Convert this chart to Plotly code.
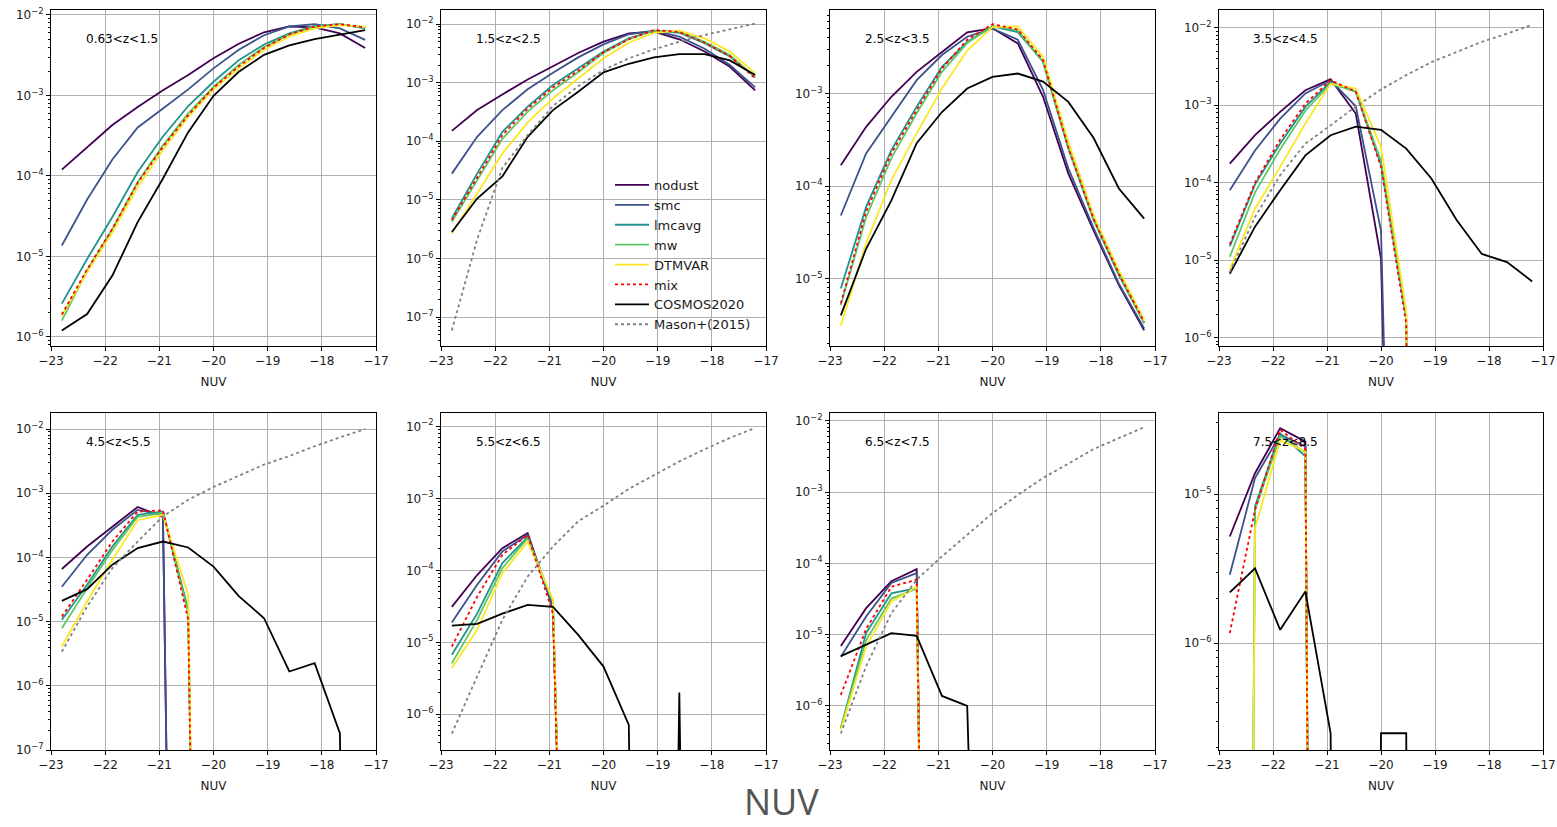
import math
import plotly.graph_objects as go

# ---------------- data ----------------
NUV_BINS = [-22.8, -22.333, -21.867, -21.4, -20.933, -20.467, -20.0,
            -19.533, -19.067, -18.6, -18.133, -17.667, -17.2]

PANEL_LABELS = ["0.63<z<1.5", "1.5<z<2.5", "2.5<z<3.5", "3.5<z<4.5",
                "4.5<z<5.5", "5.5<z<6.5", "6.5<z<7.5", "7.5<z<8.5"]

Z = 0  # empty bin

NODUST = [
    [1.2e-4, 2.3e-4, 4.3e-4, 7.2e-4, 1.16e-3, 1.8e-3, 2.9e-3, 4.4e-3, 6.1e-3, 7.2e-3, 7.0e-3, 5.9e-3, 3.9e-3],
    [1.5e-4, 3.4e-4, 6.3e-4, 1.13e-3, 1.9e-3, 3.2e-3, 5.0e-3, 6.9e-3, 7.4e-3, 5.5e-3, 3.4e-3, 1.87e-3, 7.4e-4],
    [1.68e-4, 4.36e-4, 9.2e-4, 1.71e-3, 2.8e-3, 4.57e-3, 5.05e-3, 3.47e-3, 9.2e-4, 1.36e-4, 3.3e-5, 8.5e-6, 2.76e-6],
    [1.76e-4, 4.1e-4, 8.2e-4, 1.56e-3, 2.17e-3, 7.8e-4, 1.04e-5, Z, Z, Z, Z, Z, Z],
    [6.6e-5, 1.48e-4, 3.0e-4, 6.1e-4, 4.3e-4, Z, Z, Z, Z, Z, Z, Z, Z],
    [3.1e-5, 8.6e-5, 2.03e-4, 3.3e-4, 3.0e-5, Z, Z, Z, Z, Z, Z, Z, Z],
    [6.95e-6, 2.35e-5, 5.6e-5, 8.3e-5, Z, Z, Z, Z, Z, Z, Z, Z, Z],
    [5.2e-6, 1.38e-5, 2.77e-5, 2.25e-5, Z, Z, Z, Z, Z, Z, Z, Z, Z],
]
SMC = [
    [1.37e-5, 5.1e-5, 1.6e-4, 4.0e-4, 6.9e-4, 1.19e-3, 2.17e-3, 3.7e-3, 5.6e-3, 7.2e-3, 7.7e-3, 6.8e-3, 4.9e-3],
    [2.8e-5, 1.19e-4, 3.4e-4, 7.7e-4, 1.48e-3, 2.7e-3, 4.5e-3, 6.7e-3, 7.7e-3, 6.1e-3, 3.8e-3, 2.0e-3, 8.3e-4],
    [4.8e-5, 2.25e-4, 5.6e-4, 1.39e-3, 2.6e-3, 4.1e-3, 5.0e-3, 3.8e-3, 1.09e-3, 1.55e-4, 3.5e-5, 8.8e-6, 2.9e-6],
    [8.0e-5, 2.6e-4, 6.7e-4, 1.42e-3, 2.1e-3, 9.7e-4, 2.4e-5, Z, Z, Z, Z, Z, Z],
    [3.5e-5, 1.1e-4, 2.7e-4, 5.5e-4, 4.6e-4, Z, Z, Z, Z, Z, Z, Z, Z],
    [1.88e-5, 6.3e-5, 1.83e-4, 3.1e-4, 3.1e-5, Z, Z, Z, Z, Z, Z, Z, Z],
    [4.9e-6, 1.8e-5, 5.3e-5, 7.3e-5, Z, Z, Z, Z, Z, Z, Z, Z, Z],
    [2.88e-6, 1.28e-5, 2.5e-5, 2.09e-5, Z, Z, Z, Z, Z, Z, Z, Z, Z],
]
LMCAVG = [
    [2.6e-6, 9.3e-6, 3.1e-5, 1.12e-4, 3.1e-4, 7.4e-4, 1.48e-3, 2.75e-3, 4.3e-3, 5.9e-3, 7.3e-3, 7.7e-3, 6.8e-3],
    [4.8e-6, 2.8e-5, 1.45e-4, 3.9e-4, 9.1e-4, 1.75e-3, 3.4e-3, 5.7e-3, 7.7e-3, 7.1e-3, 4.7e-3, 2.8e-3, 1.26e-3],
    [7.8e-6, 5.95e-5, 2.44e-4, 7.2e-4, 1.94e-3, 3.6e-3, 5.3e-3, 4.6e-3, 2.2e-3, 2.54e-4, 4.3e-5, 1.09e-5, 3.3e-6],
    [1.5e-5, 9.5e-5, 3.2e-4, 9.5e-4, 2.0e-3, 1.5e-3, 1.7e-4, 1.8e-6, Z, Z, Z, Z, Z],
    [1.07e-5, 3.75e-5, 1.48e-4, 4.6e-4, 5.2e-4, 1.53e-5, Z, Z, Z, Z, Z, Z, Z],
    [6.7e-6, 2.5e-5, 1.26e-4, 2.9e-4, 3.5e-5, Z, Z, Z, Z, Z, Z, Z, Z],
    [4.9e-7, 1.05e-5, 3.8e-5, 4.5e-5, Z, Z, Z, Z, Z, Z, Z, Z, Z],
    [Z, 8.3e-6, 2.56e-5, 1.79e-5, Z, Z, Z, Z, Z, Z, Z, Z, Z],
]
MW = [
    [1.6e-6, 6.7e-6, 2.2e-5, 8.4e-5, 2.4e-4, 6.0e-4, 1.28e-3, 2.4e-3, 4.0e-3, 5.75e-3, 7.2e-3, 7.7e-3, 6.9e-3],
    [4.2e-6, 2.2e-5, 1.1e-4, 3.2e-4, 7.4e-4, 1.5e-3, 3.2e-3, 5.5e-3, 7.7e-3, 7.4e-3, 5.0e-3, 2.95e-3, 1.23e-3],
    [5.2e-6, 4.6e-5, 2.0e-4, 6.1e-4, 1.71e-3, 3.5e-3, 5.35e-3, 4.8e-3, 2.2e-3, 2.6e-4, 4.4e-5, 1.13e-5, 3.3e-6],
    [1.1e-5, 7.5e-5, 2.7e-4, 8.5e-4, 1.9e-3, 1.5e-3, 1.9e-4, 1.9e-6, Z, Z, Z, Z, Z],
    [7.9e-6, 3.3e-5, 1.3e-4, 4.3e-4, 4.9e-4, 1.36e-5, Z, Z, Z, Z, Z, Z, Z],
    [5.1e-6, 2.05e-5, 1.07e-4, 2.8e-4, 3.7e-5, Z, Z, Z, Z, Z, Z, Z, Z],
    [5.0e-7, 8.4e-6, 3.2e-5, 4.4e-5, Z, Z, Z, Z, Z, Z, Z, Z, Z],
    [Z, 7.85e-6, 2.44e-5, 1.9e-5, Z, Z, Z, Z, Z, Z, Z, Z, Z],
]
DTMVAR = [
    [1.85e-6, 6.4e-6, 2.0e-5, 7.3e-5, 2.1e-4, 5.4e-4, 1.19e-3, 2.17e-3, 3.7e-3, 5.4e-3, 6.8e-3, 7.5e-3, 7.1e-3],
    [2.65e-6, 1.28e-5, 6.2e-5, 2.1e-4, 5.4e-4, 1.18e-3, 2.6e-3, 4.8e-3, 7.1e-3, 7.7e-3, 5.7e-3, 3.4e-3, 1.44e-3],
    [3.1e-6, 2.4e-5, 1.16e-4, 3.7e-4, 1.13e-3, 2.9e-3, 5.2e-3, 5.3e-3, 2.5e-3, 3.0e-4, 4.8e-5, 1.23e-5, 3.55e-6],
    [7.6e-6, 4.6e-5, 1.6e-4, 5.8e-4, 1.9e-3, 1.64e-3, 2.9e-4, 2.2e-6, Z, Z, Z, Z, Z],
    [4.1e-6, 2.06e-5, 9.2e-5, 3.8e-4, 4.6e-4, 2.6e-5, Z, Z, Z, Z, Z, Z, Z],
    [4.4e-6, 1.49e-5, 9.1e-5, 2.5e-4, 3.9e-5, Z, Z, Z, Z, Z, Z, Z, Z],
    [4.6e-7, 6.8e-6, 2.9e-5, 4.7e-5, Z, Z, Z, Z, Z, Z, Z, Z, Z],
    [Z, 5.9e-6, 2.3e-5, 1.93e-5, Z, Z, Z, Z, Z, Z, Z, Z, Z],
]
MIX = [
    [1.9e-6, 6.9e-6, 2.2e-5, 8.2e-5, 2.3e-4, 5.7e-4, 1.25e-3, 2.3e-3, 3.9e-3, 5.75e-3, 7.2e-3, 7.7e-3, 7.0e-3],
    [4.5e-6, 2.45e-5, 1.27e-4, 3.6e-4, 8.3e-4, 1.6e-3, 3.3e-3, 5.5e-3, 7.9e-3, 7.3e-3, 4.8e-3, 2.85e-3, 1.18e-3],
    [5.4e-6, 5.3e-5, 2.25e-4, 6.6e-4, 1.86e-3, 3.8e-3, 5.6e-3, 4.9e-3, 2.3e-3, 2.6e-4, 4.4e-5, 1.13e-5, 3.4e-6],
    [1.6e-5, 1.0e-4, 3.6e-4, 1.05e-3, 2.1e-3, 1.5e-3, 1.6e-4, 1.5e-6, Z, Z, Z, Z, Z],
    [1.2e-5, 4.5e-5, 1.77e-4, 5.2e-4, 5.4e-4, 1.07e-5, Z, Z, Z, Z, Z, Z, Z],
    [8.7e-6, 4.3e-5, 1.64e-4, 3.1e-4, 2.5e-5, Z, Z, Z, Z, Z, Z, Z, Z],
    [1.43e-6, 1.2e-5, 4.7e-5, 5.9e-5, Z, Z, Z, Z, Z, Z, Z, Z, Z],
    [1.17e-6, 7.85e-6, 2.7e-5, 2.0e-5, Z, Z, Z, Z, Z, Z, Z, Z, Z],
]
COSMOS2020 = [
    [1.2e-6, 1.93e-6, 5.8e-6, 2.67e-5, 9.3e-5, 3.5e-4, 9.9e-4, 1.97e-3, 3.2e-3, 4.2e-3, 5.0e-3, 5.7e-3, 6.5e-3],
    [2.83e-6, 1.05e-5, 2.5e-5, 1.19e-4, 3.4e-4, 7.0e-4, 1.5e-3, 2.1e-3, 2.7e-3, 3.07e-3, 3.07e-3, 2.4e-3, 1.35e-3],
    [4.0e-6, 2.1e-5, 7.0e-5, 2.9e-4, 6.3e-4, 1.13e-3, 1.51e-3, 1.64e-3, 1.34e-3, 8.1e-4, 3.3e-4, 9.4e-5, 4.45e-5],
    [6.65e-6, 2.7e-5, 8.0e-5, 2.25e-4, 4.1e-4, 5.3e-4, 4.8e-4, 2.75e-4, 1.13e-4, 3.3e-5, 1.2e-5, 9.4e-6, 5.3e-6],
    [2.1e-5, 3.2e-5, 7.7e-5, 1.4e-4, 1.77e-4, 1.43e-4, 7.2e-5, 2.5e-5, 1.13e-5, 1.67e-6, 2.25e-6, 1.83e-7, Z],
    [1.7e-5, 1.8e-5, 2.5e-5, 3.3e-5, 3.1e-5, 1.27e-5, 4.6e-6, 7.1e-7, Z, 2.0e-6, Z, Z, Z],
    [5.0e-6, 7.2e-6, 1.05e-5, 9.6e-6, 1.38e-6, 1.0e-6, Z, Z, Z, Z, Z, Z, Z],
    [2.19e-6, 3.18e-6, 1.23e-6, 2.22e-6, 2.49e-7, Z, 2.49e-7, 2.49e-7, Z, Z, Z, Z, Z],
]
MASON2015 = [
    None,
    [5.9e-8, 2.1e-6, 3.5e-5, 1.27e-4, 4.0e-4, 8.7e-4, 1.64e-3, 2.6e-3, 3.7e-3, 5.0e-3, 6.5e-3, 8.2e-3, 1.02e-2],
    None,
    [7.0e-6, 3.6e-5, 1.25e-4, 3.2e-4, 5.5e-4, 9.6e-4, 1.6e-3, 2.45e-3, 3.6e-3, 4.9e-3, 6.6e-3, 8.4e-3, 1.1e-2],
    [3.4e-6, 1.72e-5, 6.8e-5, 1.77e-4, 4.35e-4, 7.9e-4, 1.25e-3, 1.87e-3, 2.8e-3, 3.8e-3, 5.4e-3, 7.4e-3, 1.0e-2],
    [5.4e-7, 3.3e-6, 2.05e-5, 8.2e-5, 2.14e-4, 4.8e-4, 7.9e-4, 1.35e-3, 2.1e-3, 3.26e-3, 4.8e-3, 6.9e-3, 9.5e-3],
    [4.1e-7, 3.6e-6, 2.0e-5, 5.9e-5, 1.25e-4, 2.5e-4, 5.06e-4, 9.1e-4, 1.57e-3, 2.5e-3, 4.0e-3, 5.7e-3, 8.1e-3],
    None,
]

# ---------------- styling / layout ----------------
SERIES = [
    ("nodust", NODUST, "#440154", "solid"),
    ("smc", SMC, "#3b528b", "solid"),
    ("lmcavg", LMCAVG, "#21918c", "solid"),
    ("mw", MW, "#5ec962", "solid"),
    ("DTMVAR", DTMVAR, "#fde725", "solid"),
    ("mix", MIX, "#ff0000", "dot"),
    ("COSMOS2020", COSMOS2020, "#000000", "solid"),
    ("Mason+(2015)", MASON2015, "#808080", "dot"),
]

W, H = 1557, 827
COL_PX = [(51, 376), (441, 766), (830, 1155), (1219, 1543)]
ROW_PX = [(10, 346), (413, 750)]
Y_LOG_RANGES = [(-6.112, -1.938), (-7.495, -1.76), (-5.728, -2.099), (-6.11, -1.77),
                (-7.0, -1.75), (-6.496, -1.815), (-6.618, -1.892), (-6.716, -4.456)]
ZERO_FLOOR = 1e-30  # matplotlib-like clipping of empty bins on a log axis
FONT = "DejaVu Sans"
TXT = "#1a1a1a"

fig = go.Figure()

for p in range(8):
    r, c = divmod(p, 4)
    xa = "x" if p == 0 else f"x{p+1}"
    ya = "y" if p == 0 else f"y{p+1}"
    for name, data, color, dash in SERIES:
        vals = data[p]
        if vals is None:
            continue
        yv = [v if v > 0 else ZERO_FLOOR for v in vals]
        fig.add_trace(go.Scatter(
            x=NUV_BINS, y=yv, mode="lines", name=name,
            line=dict(color=color, width=1.8, dash=dash),
            xaxis=xa, yaxis=ya, showlegend=(p == 1), legendgroup=name,
            hoverinfo="skip"))

    x0, x1 = COL_PX[c]
    y0, y1 = ROW_PX[r]
    lo, hi = Y_LOG_RANGES[p]
    decs = list(range(math.ceil(lo), math.floor(hi) + 1))
    minors = [m * 10.0 ** k for k in range(math.floor(lo), math.ceil(hi) + 1)
              for m in range(2, 10) if lo <= math.log10(m * 10.0 ** k) <= hi]
    xkey = "xaxis" if p == 0 else f"xaxis{p+1}"
    ykey = "yaxis" if p == 0 else f"yaxis{p+1}"
    fig.layout[xkey] = dict(
        domain=[x0 / W, x1 / W], anchor=ya, range=[-23, -17], automargin=False,
        tickvals=[-23, -22, -21, -20, -19, -18, -17],
        ticktext=["\u221223", "\u221222", "\u221221", "\u221220", "\u221219", "\u221218", "\u221217"],
        ticks="outside", ticklen=4, tickwidth=1, tickcolor="black",
        showgrid=True, gridcolor="#b0b0b0", gridwidth=1,
        showline=True, linecolor="black", linewidth=1, mirror=True,
        zeroline=False, tickfont=dict(family=FONT, size=12, color=TXT),
        title=dict(text="NUV", font=dict(family=FONT, size=12, color=TXT), standoff=10),
    )
    fig.layout[ykey] = dict(
        domain=[1 - y1 / H, 1 - y0 / H], anchor=xa, type="log", range=[lo, hi],
        automargin=False,
        tickvals=[10.0 ** k for k in decs],
        ticktext=[f"10<sup>\u2212{-k}</sup>" for k in decs],
        ticks="outside", ticklen=4, tickwidth=1, tickcolor="black",
        minor=dict(tickvals=minors, ticks="outside", ticklen=2, tickwidth=1,
                   tickcolor="black", showgrid=False),
        showgrid=True, gridcolor="#b0b0b0", gridwidth=1,
        showline=True, linecolor="black", linewidth=1, mirror=True,
        zeroline=False, tickfont=dict(family=FONT, size=12, color=TXT),
    )
    fig.add_annotation(
        text=PANEL_LABELS[p], xref=f"{xa} domain", yref=f"{ya} domain",
        x=0.1, y=0.913, xanchor="left", yanchor="middle", showarrow=False,
        font=dict(family=FONT, size=12, color="black"))

fig.add_annotation(
    text="NUV", xref="paper", yref="paper", x=782 / W, y=0,
    xanchor="center", yanchor="bottom", showarrow=False, borderpad=0,
    font=dict(family="Open Sans", size=36, color="#555555"))

fig.update_layout(
    width=W, height=H, margin=dict(l=0, r=0, t=0, b=0, autoexpand=False),
    paper_bgcolor="white", plot_bgcolor="white",
    showlegend=True,
    legend=dict(x=610 / W, y=1 - 170 / H, xanchor="left", yanchor="top",
                bgcolor="rgba(0,0,0,0)", borderwidth=0, tracegroupgap=0,
                font=dict(family=FONT, size=13, color=TXT), itemwidth=34),
)

fig.write_html("out.html")
